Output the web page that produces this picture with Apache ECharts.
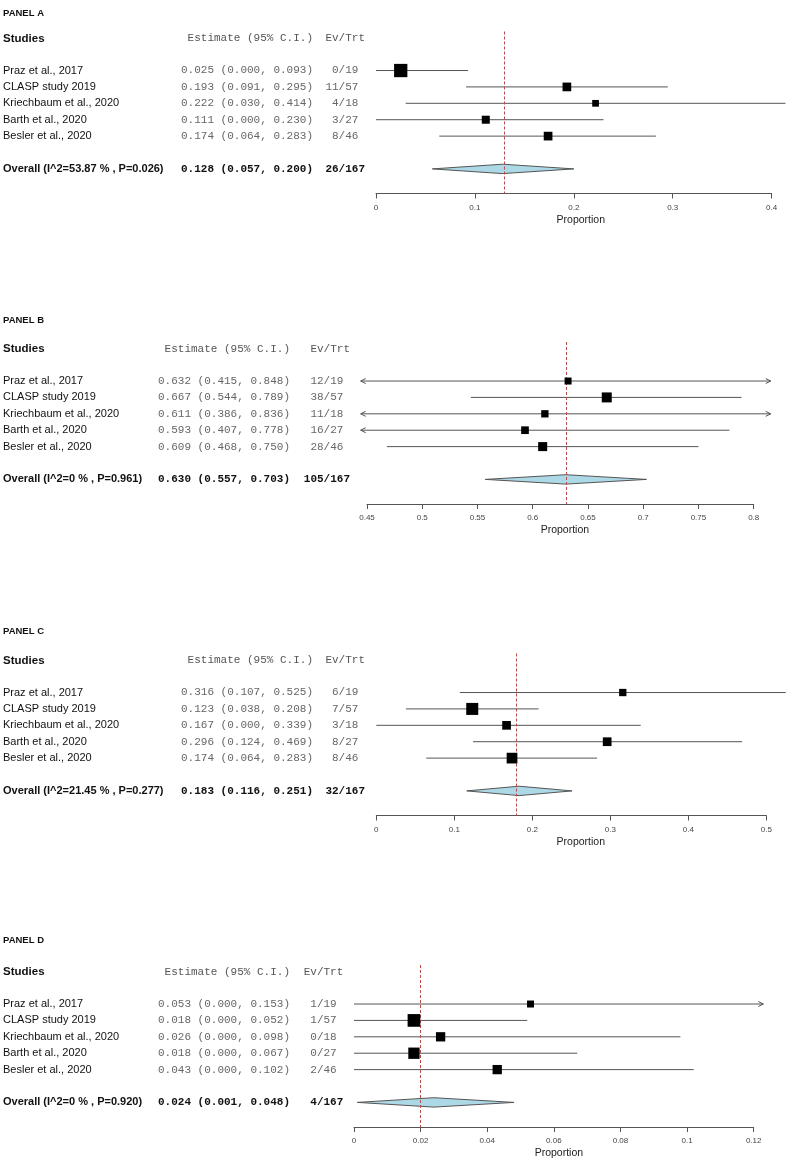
<!DOCTYPE html>
<html>
<head>
<meta charset="utf-8">
<script src="https://cdn.jsdelivr.net/npm/echarts@6/dist/echarts.min.js"></script>
<style>html,body{margin:0;padding:0;background:#fff}#c{width:790px;height:1168px}</style>
</head>
<body>
<div id="c"></div>
<script>
// ---------- data ----------
const studies = ["Praz et al., 2017", "CLASP study 2019", "Kriechbaum et al., 2020", "Barth et al., 2020", "Besler et al., 2020"];
const trt = [19, 57, 18, 27, 46];

const panelTitles = ["PANEL A", "PANEL B", "PANEL C", "PANEL D"];

const estA = [0.025, 0.193, 0.222, 0.111, 0.174];
const loA  = [0.000, 0.091, 0.030, 0.000, 0.064];
const hiA  = [0.093, 0.295, 0.414, 0.230, 0.283];
const evA  = [0, 11, 4, 3, 8];
const wA   = [28.9, 18.9, 14.6, 17.4, 18.9];
const overallA = [0.128, 0.057, 0.200];
const hetA = [53.87, 0.026];
const ticksA = ["0", "0.1", "0.2", "0.3", "0.4"];

const estB = [0.632, 0.667, 0.611, 0.593, 0.609];
const loB  = [0.415, 0.544, 0.386, 0.407, 0.468];
const hiB  = [0.848, 0.789, 0.836, 0.778, 0.750];
const evB  = [12, 38, 11, 16, 28];
const wB   = [15.2, 21.7, 15.9, 16.7, 19.6];
const overallB = [0.630, 0.557, 0.703];
const hetB = [0, 0.961];
const ticksB = ["0.45", "0.5", "0.55", "0.6", "0.65", "0.7", "0.75", "0.8"];
const arrowLimB = [0.4443, 0.8154];

const estC = [0.316, 0.123, 0.167, 0.296, 0.174];
const loC  = [0.107, 0.038, 0.000, 0.124, 0.064];
const hiC  = [0.525, 0.208, 0.339, 0.469, 0.283];
const evC  = [6, 7, 3, 8, 8];
const wC   = [15.9, 26.1, 18.9, 18.9, 23.3];
const overallC = [0.183, 0.116, 0.251];
const hetC = [21.45, 0.277];
const ticksC = ["0", "0.1", "0.2", "0.3", "0.4", "0.5"];

const estD = [0.053, 0.018, 0.026, 0.018, 0.043];
const loD  = [0.000, 0.000, 0.000, 0.000, 0.000];
const hiD  = [0.153, 0.052, 0.098, 0.067, 0.102];
const evD  = [1, 1, 0, 0, 2];
const wD   = [15.2, 27.6, 20.2, 24.6, 20.2];
const overallD = [0.024, 0.001, 0.048];
const hetD = [0, 0.920];
const ticksD = ["0", "0.02", "0.04", "0.06", "0.08", "0.1", "0.12"];
const arrowLimD = [-1, 0.1229];

// ---------- layout ----------
const panels = [
  {est: estA, lo: loA, hi: hiA, ev: evA, w: wA, ov: overallA, het: hetA, ticks: ticksA, lim: [-1, 1],
   left: 376, width: 395.6, top: 31.5, titleY: 13.5, estR: 313, evR: 365, nameShift: 14},
  {est: estB, lo: loB, hi: hiB, ev: evB, w: wB, ov: overallB, het: hetB, ticks: ticksB, lim: arrowLimB,
   left: 367, width: 386.7, top: 342, titleY: 320, estR: 290, evR: 350, nameShift: 9},
  {est: estC, lo: loC, hi: hiC, ev: evC, w: wC, ov: overallC, het: hetC, ticks: ticksC, lim: [-1, 1],
   left: 376.3, width: 390, top: 653.5, titleY: 631.5, estR: 313, evR: 365, nameShift: 19},
  {est: estD, lo: loD, hi: hiD, ev: evD, w: wD, ov: overallD, het: hetD, ticks: ticksD, lim: arrowLimD,
   left: 354, width: 399.7, top: 965, titleY: 940, estR: 290, evR: 343.3, nameShift: 10}
];
const ROW_MIN = -1.38, ROW_MAX = 8.5, GRID_H = 162, OVERALL_ROW = 7;

const chart = echarts.init(document.getElementById('c'), null, {renderer: 'canvas'});

const grids = [], xAxes = [], yAxes = [], series = [];
panels.forEach((p, i) => {
  const tickVals = p.ticks.map(Number);
  grids.push({left: p.left, width: p.width, top: p.top, height: GRID_H, containLabel: false});
  xAxes.push({
    type: 'value', gridIndex: i, position: 'bottom', min: tickVals[0], max: tickVals[tickVals.length - 1],
    interval: tickVals[1] - tickVals[0],
    axisLine: {show: true, onZero: false, lineStyle: {color: '#555', width: 1}},
    axisTick: {show: true, length: 5, lineStyle: {color: '#555'}},
    splitLine: {show: false},
    axisLabel: {fontSize: 8, color: '#444', fontFamily: 'Liberation Sans', margin: 10,
      formatter: v => { const k = tickVals.findIndex(t => Math.abs(t - v) < 1e-9); return k >= 0 ? p.ticks[k] : ''; }},
    name: 'Proportion', nameLocation: 'middle', nameGap: 21,
    nameTextStyle: {fontSize: 10.5, color: '#222', fontFamily: 'Liberation Sans', padding: [0, 0, 0, p.nameShift]}
  });
  yAxes.push({type: 'value', gridIndex: i, min: ROW_MIN, max: ROW_MAX, inverse: true, show: false});

  // CI lines with arrows where clipped
  series.push({
    type: 'custom', xAxisIndex: i, yAxisIndex: i, clip: false, z: 2, silent: true,
    encode: {x: [0, 1], y: 2},
    data: p.est.map((e, k) => [p.lo[k], p.hi[k], k + 1]),
    renderItem: (params, api) => {
      const lo = api.value(0), hi = api.value(1), row = api.value(2);
      const l = Math.max(lo, p.lim[0]), h = Math.min(hi, p.lim[1]);
      const a = api.coord([l, row]), b = api.coord([h, row]);
      const st = {stroke: '#555', lineWidth: 1, fill: null};
      const ch = [{type: 'line', shape: {x1: a[0], y1: a[1], x2: b[0], y2: b[1]}, style: st}];
      if (lo < p.lim[0]) ch.push({type: 'polyline', shape: {points: [[a[0] + 5, a[1] - 2.5], [a[0], a[1]], [a[0] + 5, a[1] + 2.5]]}, style: st});
      if (hi > p.lim[1]) ch.push({type: 'polyline', shape: {points: [[b[0] - 5, b[1] - 2.5], [b[0], b[1]], [b[0] - 5, b[1] + 2.5]]}, style: st});
      return {type: 'group', children: ch};
    }
  });
  // summary diamond
  series.push({
    type: 'custom', xAxisIndex: i, yAxisIndex: i, clip: false, z: 3, silent: true,
    encode: {x: [0, 1, 2], y: 3},
    data: [[p.ov[1], p.ov[0], p.ov[2], OVERALL_ROW]],
    renderItem: (params, api) => {
      const row = api.value(3);
      const L = api.coord([api.value(0), row]), C = api.coord([api.value(1), row]), R = api.coord([api.value(2), row]);
      return {type: 'polygon', shape: {points: [L, [C[0], C[1] - 4.7], R, [C[0], C[1] + 4.7]]},
        style: {fill: '#ADD8E6', stroke: '#555', lineWidth: 1}};
    }
  });
  // squares + reference line
  series.push({
    type: 'scatter', xAxisIndex: i, yAxisIndex: i, z: 5, silent: true,
    symbol: 'rect', symbolSize: v => v[2] * 0.46,
    itemStyle: {color: '#000', opacity: 1},
    data: p.est.map((e, k) => [e, k + 1, p.w[k]]),
    markLine: {
      silent: true, symbol: ['none', 'none'], label: {show: false}, z: 4,
      lineStyle: {color: '#b84a4a', width: 1, type: [3, 2]},
      data: [{xAxis: p.ov[0]}]
    }
  });
});

chart.setOption({
  animation: false,
  backgroundColor: '#fff',
  grid: grids, xAxis: xAxes, yAxis: yAxes, series: series
});

// ---------- text columns ----------
const SANS = 'Liberation Sans', MONO = 'Liberation Mono';
const graphics = [];
function txt(x, y, text, o) {
  graphics.push({type: 'text', x: x, y: y, silent: true, style: Object.assign({
    text: text, fontSize: 11, fontFamily: SANS, fill: '#111', align: 'left', verticalAlign: 'middle'}, o || {})});
}
panels.forEach((p, i) => {
  const rowY = r => chart.convertToPixel({xAxisIndex: i, yAxisIndex: i}, [p.est[0], r])[1];
  txt(3, p.titleY, panelTitles[i], {fontSize: 9.5, fontWeight: 'bold', fill: '#111'});
  const hy = rowY(-0.95);
  txt(3, hy, 'Studies', {fontWeight: 'bold', fontSize: 11.5});
  txt(p.estR, hy, 'Estimate (95% C.I.)', {fontFamily: MONO, fill: '#555', align: 'right'});
  txt(p.evR, hy, 'Ev/Trt', {fontFamily: MONO, fill: '#555', align: 'right'});
  studies.forEach((s, k) => {
    const y = rowY(k + 1);
    txt(3, y, s);
    txt(p.estR, y, p.est[k].toFixed(3) + ' (' + p.lo[k].toFixed(3) + ', ' + p.hi[k].toFixed(3) + ')',
      {fontFamily: MONO, fill: '#666', align: 'right'});
    txt(p.evR - 6.6, y, p.ev[k] + '/' + trt[k], {fontFamily: MONO, fill: '#666', align: 'right'});
  });
  const oy = rowY(OVERALL_ROW);
  txt(3, oy, 'Overall (I^2=' + p.het[0] + ' % , P=' + p.het[1].toFixed(3) + ')', {fontWeight: 'bold'});
  txt(p.estR, oy, p.ov[0].toFixed(3) + ' (' + p.ov[1].toFixed(3) + ', ' + p.ov[2].toFixed(3) + ')',
    {fontFamily: MONO, fontWeight: 'bold', fill: '#111', align: 'right'});
  const sumEv = p.ev.reduce((a, b) => a + b, 0), sumN = trt.reduce((a, b) => a + b, 0);
  txt(p.evR, oy, sumEv + '/' + sumN, {fontFamily: MONO, fontWeight: 'bold', fill: '#111', align: 'right'});
});
chart.setOption({graphic: graphics});
</script>
</body>
</html>
